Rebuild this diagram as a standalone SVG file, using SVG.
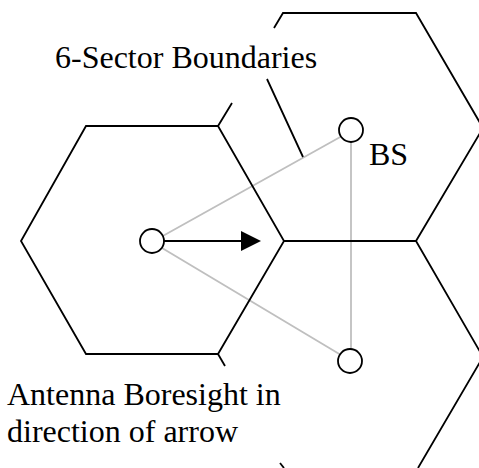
<svg xmlns="http://www.w3.org/2000/svg" width="479" height="468" viewBox="0 0 479 468">
<style>
.h{fill:none;stroke:#000;stroke-width:1.8}
.g{fill:none;stroke:#bfbfbf;stroke-width:1.8}
.n{fill:#fff;stroke:#000;stroke-width:1.8}
text{font-family:"Liberation Serif","Times New Roman",serif;font-size:32px;fill:#000}
</style>
<rect width="479" height="468" fill="#fff"/>
<g id="connectors">
<path class="g" d="M152 242L351 131M152 242L351 361M351 131V361"/>
<path d="M152 241H245" fill="none" stroke="#000" stroke-width="1.8"/>
<path d="M241 231L261 241L241 251Z" fill="#000"/>
</g>
<g id="cells">
<path class="h" d="M232 103L218 126H86L21 241L86 354H218L284 241L218 126"/>
<path class="h" d="M218 354L225 366"/>
<path class="h" d="M274 28L283 13H416L483 128L416 241H284M267 79L303 157"/>
<path class="h" d="M416 241L483 357L418 468"/>
<path class="h" d="M280 463L284 468"/>
</g>
<g id="node-center"><circle class="n" cx="152" cy="241" r="12"/></g>
<g id="node-bs"><circle class="n" cx="351" cy="130" r="12"/></g>
<g id="node-lower"><circle class="n" cx="350" cy="361" r="12"/></g>
<g id="labels">
<text x="55" y="68">6-Sector Boundaries</text>
<text x="369" y="165">BS</text>
<text x="7" y="405">Antenna Boresight in</text>
<text x="7" y="442">direction of arrow</text>
</g>
</svg>
